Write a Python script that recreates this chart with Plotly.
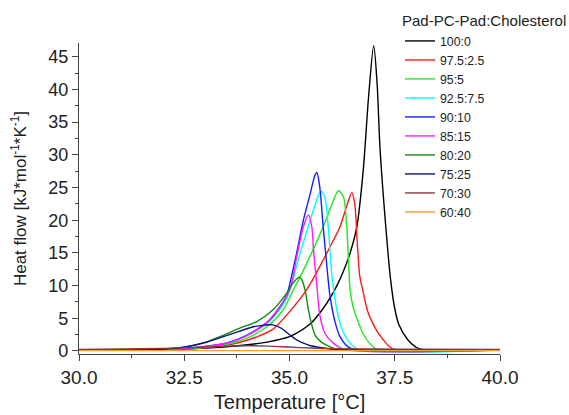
import plotly.graph_objects as go

# ---- data ----
labels = ["100:0", "97.5:2.5", "95:5", "92.5:7.5", "90:10", "85:15", "80:20", "75:25", "70:30", "60:40"]
colors = ["#000000", "#ff1a1a", "#22e622", "#00ffff", "#1a1aff", "#ff1aff", "#108a10", "#101080", "#8b3a3a", "#f59a3c"]

t_100_0 = [30, 31, 32, 32.5, 33, 33.5, 34, 34.5, 35, 35.5, 35.8, 36.0, 36.15, 36.3, 36.45, 36.6, 36.75, 36.88, 37.0, 37.08, 37.15, 37.3, 37.4, 37.5, 37.6, 37.8, 38.0, 38.2, 39, 40]
v_100_0 = [0.15, 0.15, 0.2, 0.3, 0.45, 0.65, 0.95, 1.4, 2.2, 4.2, 6.5, 8.5, 10.3, 12.5, 15.2, 19.0, 27.5, 39, 46.7, 41, 31, 18, 11, 6.5, 4.0, 1.8, 0.6, 0.15, 0.15, 0.15]

t_975 = [30, 31, 32, 32.5, 33, 33.5, 33.8, 34.2, 34.6, 35.0, 35.4, 35.8, 36.0, 36.2, 36.35, 36.48, 36.55, 36.61, 36.67, 36.75, 36.85, 36.95, 37.1, 37.22, 37.35, 37.5, 38, 40]
v_975 = [0.15, 0.15, 0.2, 0.3, 0.5, 0.9, 1.3, 2.1, 3.3, 6.0, 9.3, 13.9, 16.4, 19.0, 22.0, 24.2, 22.5, 16.5, 11.4, 9.0, 6.2, 4.6, 2.8, 1.8, 0.8, 0.2, 0.15, 0.15]

t_95 = [30, 31, 32, 32.5, 33, 33.5, 34, 34.46, 34.85, 35.09, 35.41, 35.8, 36.0, 36.16, 36.28, 36.36, 36.4, 36.44, 36.5, 36.6, 36.75, 36.9, 37.07, 37.3, 40]
v_95 = [0.15, 0.15, 0.2, 0.3, 0.55, 1.0, 2.0, 3.7, 6.3, 9.3, 13.4, 19.0, 22.3, 24.5, 23.6, 19.0, 13.9, 9.3, 7.0, 5.0, 2.6, 1.2, 0.3, 0.15, 0.15]

t_925 = [30, 31, 32, 32.5, 33, 33.5, 34, 34.5, 34.93, 35.25, 35.57, 35.7, 35.76, 35.84, 35.92, 36.0, 36.08, 36.15, 36.25, 36.44, 36.65, 40]
v_925 = [0.15, 0.15, 0.2, 0.35, 0.7, 1.2, 2.4, 4.4, 8.0, 14.9, 21.6, 24.0, 24.4, 23.5, 19.0, 12.0, 8.0, 5.5, 3.3, 1.2, 0.2, 0.15]

t_90 = [30, 31, 32, 32.5, 33, 33.5, 33.98, 34.54, 34.93, 35.05, 35.17, 35.33, 35.49, 35.6, 35.65, 35.72, 35.8, 35.88, 35.96, 36.08, 36.2, 36.4, 36.6, 40]
v_90 = [0.15, 0.15, 0.2, 0.35, 0.7, 1.2, 2.4, 4.8, 8.5, 11.5, 15.0, 20.0, 24.0, 26.8, 27.3, 25.0, 19.0, 13.5, 8.5, 4.5, 2.2, 0.6, 0.2, 0.15]

t_85 = [30, 31, 32, 32.5, 33, 33.5, 34, 34.5, 35.0, 35.17, 35.33, 35.45, 35.53, 35.57, 35.65, 35.72, 35.85, 36.04, 36.3, 40]
v_85 = [0.15, 0.15, 0.2, 0.35, 0.7, 1.2, 2.4, 4.6, 9.3, 14.4, 19.0, 20.8, 19.0, 15.5, 10.0, 5.5, 2.6, 1.2, 0.25, 0.15]

t_80 = [30, 31, 32, 32.64, 33.03, 33.43, 33.82, 34.22, 34.61, 34.93, 35.1, 35.23, 35.3, 35.37, 35.45, 35.53, 35.61, 35.75, 35.88, 36.1, 40]
v_80 = [0.15, 0.15, 0.3, 0.75, 1.4, 2.4, 3.5, 4.5, 6.3, 8.8, 10.5, 11.3, 10.8, 9.3, 6.3, 4.0, 2.4, 1.4, 0.9, 0.3, 0.15]

t_75 = [30, 31, 32, 32.5, 33.0, 33.43, 33.8, 34.14, 34.4, 34.6, 34.8, 35.01, 35.17, 35.33, 35.5, 35.72, 36.0, 36.3, 40]
v_75 = [0.15, 0.15, 0.3, 0.6, 1.3, 2.2, 3.0, 3.7, 3.95, 4.0, 3.5, 2.45, 1.7, 1.2, 0.8, 0.55, 0.3, 0.2, 0.15]

t_70 = [30, 31, 32, 33, 33.5, 34.06, 34.5, 35.0, 35.5, 36.0, 37, 38, 40]
v_70 = [0.25, 0.3, 0.4, 0.6, 0.75, 0.8, 0.75, 0.6, 0.45, 0.35, 0.3, 0.28, 0.25]

t_60 = [30, 32, 34, 36, 38, 40]
v_60 = [0.05, 0.05, 0.05, 0.05, 0.05, 0.05]

temps = [t_100_0, t_975, t_95, t_925, t_90, t_85, t_80, t_75, t_70, t_60]
flows = [v_100_0, v_975, v_95, v_925, v_90, v_85, v_80, v_75, v_70, v_60]

x_ticks = [30.0, 32.5, 35.0, 37.5, 40.0]
y_ticks = [0, 5, 10, 15, 20, 25, 30, 35, 40, 45]

FONT = "Liberation Sans, Arial, sans-serif"
NBSP = "\u00a0"

fig = go.Figure()
for lab, col, t, v in zip(labels, colors, temps, flows):
    fig.add_trace(go.Scatter(x=t, y=v, mode="lines", name=lab,
                             line=dict(color=col, width=1.4, shape="spline", smoothing=0.8)))

fig.update_layout(
    width=569, height=415,
    margin=dict(l=79, r=69, t=43, b=61, autoexpand=False),
    paper_bgcolor="white", plot_bgcolor="white",
    font=dict(family=FONT, color="#222222"),
    showlegend=True,
    legend=dict(
        x=(400 - 79) / 421, y=1.116, xanchor="left", yanchor="top",
        bgcolor="rgba(0,0,0,0)", borderwidth=0,
        font=dict(family=FONT, size=12.3, color="#222222"),
        title=dict(text="Pad-PC-Pad:Cholesterol", font=dict(family=FONT, size=15, color="#222222")),
        tracegroupgap=0, itemwidth=30, maxheight=400,
    ),
)
fig.update_xaxes(
    range=[30, 40], tickvals=x_ticks, ticktext=[f"{v:.1f}" for v in x_ticks],
    showline=True, linecolor="#444444", linewidth=1.2, mirror=False,
    ticks="outside", ticklen=6, tickwidth=1.2, tickcolor="#444444",
    minor=dict(dtick=1.25, ticks="outside", ticklen=3, tickwidth=1.2, tickcolor="#444444"),
    showgrid=False, zeroline=False, automargin=False,
    tickfont=dict(family=FONT, size=19, color="#222222"),
    title=dict(text="Temperature [°C]", font=dict(family=FONT, size=20, color="#222222"), standoff=8),
)
fig.update_yaxes(
    range=[-0.46, 47.1], tickvals=y_ticks,
    showline=True, linecolor="#444444", linewidth=1.2, mirror=False,
    ticks="outside", ticklen=6, tickwidth=1.2, tickcolor="#444444",
    minor=dict(dtick=2.5, ticks="outside", ticklen=3, tickwidth=1.2, tickcolor="#444444"),
    showgrid=False, zeroline=False, automargin=False,
    tickfont=dict(family=FONT, size=18, color="#222222"),
    title=dict(text=NBSP * 9 + "Heat flow [kJ*mol<sup>-1</sup>*K<sup>-1</sup>]",
               font=dict(family=FONT, size=17, color="#222222"), standoff=17),
)

fig.write_html("out.html")
